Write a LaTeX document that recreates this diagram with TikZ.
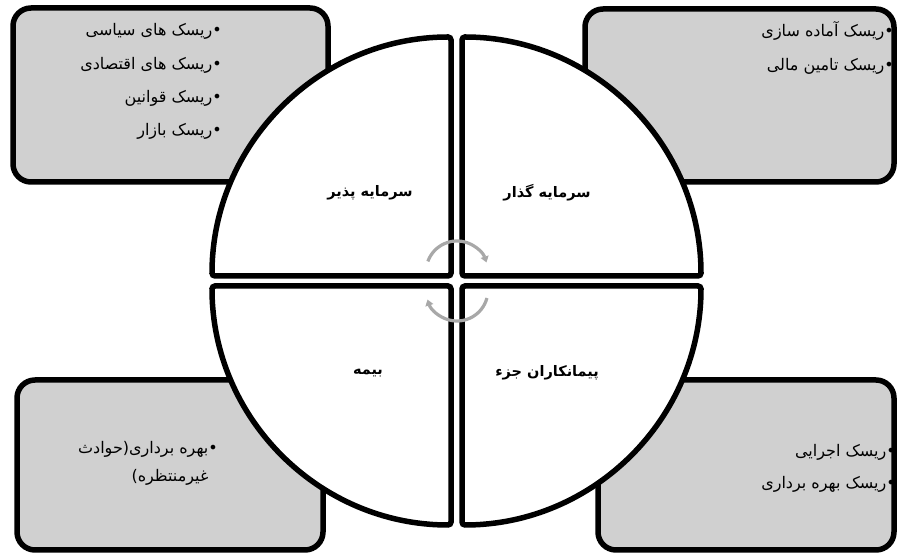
\documentclass[tikz,border=0pt]{standalone}
\usepackage{fontspec}
\usetikzlibrary{arrows.meta}
\TeXXeTstate=1
\newfontfamily\arabicfont[Script=Arabic]{DejaVu Sans}
\definecolor{boxgray}{RGB}{208,208,208}
\definecolor{arcgray}{RGB}{168,168,168}
\tikzset{
  riskbox/.style={draw=black, line width=5.5pt, fill=boxgray, rounded corners=18pt},
  quarter/.style={draw=black, line width=5.5pt, fill=white, rounded corners=3pt},
  item/.style={anchor=east, inner sep=0pt, text height=12pt, text depth=5pt,
    font=\arabicfont\fontsize{16}{18}\selectfont},
  party/.style={inner sep=0pt, font=\arabicfont\bfseries\fontsize{14.5}{16}\selectfont},
  turn/.style={draw=arcgray, line width=3.2pt, -{Triangle[length=6pt,width=8pt]}}
}
\begin{document}
\begin{tikzpicture}[x=1pt,y=1pt]
\useasboundingbox (0,0) rectangle (898,554);
% risk boxes
\draw[riskbox] (13,546) rectangle (328,372);
\draw[riskbox] (585,545) rectangle (894,372);
\draw[riskbox] (17,174) rectangle (323,4);
\draw[riskbox] (598,174) rectangle (894,4);
% four quarters
\draw[quarter] (462,278) -- ++(0,239) arc[start angle=90, end angle=0, radius=239] -- cycle;
\draw[quarter] (451,278) -- ++(-239,0) arc[start angle=180, end angle=90, radius=239] -- cycle;
\draw[quarter] (451,268) -- ++(0,-239) arc[start angle=270, end angle=180, radius=239] -- cycle;
\draw[quarter] (462,268) -- ++(239,0) arc[start angle=0, end angle=-90, radius=239] -- cycle;
%\draw[red] (456.5,273) circle (245);
\node[party] (host) at (370,361) {\beginR سرمایه پذیر\endR};
\node[party] (investor) at (547,361) {\beginR سرمایه گذار\endR};
\node[party] (insurer) at (368,181) {\beginR بیمه\endR};
\node[party] (subcontractor) at (547,181) {\beginR پیمانکاران جزء\endR};
% turning arrows
\coordinate (up) at (457,282);
\coordinate (down) at (457,264);
\draw[turn] ([shift={(160:31)}]up) arc[start angle=160, end angle=18, radius=31];
\draw[turn] ([shift={(-15:31)}]down) arc[start angle=-15, end angle=-162, radius=31];
% risk lists
\foreach \txt [count=\i] in {ریسک های سیاسی, ریسک های اقتصادی, ریسک قوانین, ریسک بازار}
  \node[item] (hostrisk\i) at (222,555-33.3*\i) {\beginR •\txt\endR};
\foreach \txt [count=\i] in {ریسک آماده سازی, ریسک تامین مالی}
  \node[item] (invrisk\i) at (894,555-34*\i) {\beginR •\txt\endR};
\node[item] (insrisk1) at (218,104) {\beginR •بهره برداری(حوادث\endR};
\node[item] (insrisk2) at (218,76) {\beginR\phantom{•}غیرمنتظره)\endR};
\foreach \txt [count=\i] in {ریسک اجرایی, ریسک بهره برداری}
  \node[item] (subrisk\i) at (896,133-32*\i) {\beginR •\txt\endR};
\end{tikzpicture}
\end{document}
